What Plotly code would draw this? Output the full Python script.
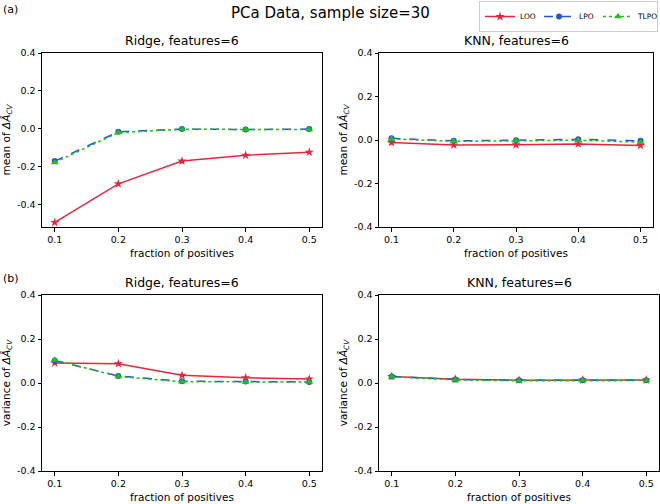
import plotly.graph_objects as go

# ---- data ----
fractions = [0.1, 0.2, 0.3, 0.4, 0.5]
ridge_mean_loo = [-0.495, -0.291, -0.171, -0.140, -0.124]
ridge_mean_lpo = [-0.171, -0.016, -0.002, -0.004, -0.002]
ridge_mean_tlpo = [-0.178, -0.020, -0.003, -0.005, -0.004]
knn_mean_loo = [-0.012, -0.023, -0.022, -0.018, -0.025]
knn_mean_lpo = [0.008, -0.004, -0.001, 0.003, -0.004]
knn_mean_tlpo = [0.005, -0.006, -0.004, -0.001, -0.010]
ridge_var_loo = [0.091, 0.088, 0.035, 0.024, 0.018]
ridge_var_lpo = [0.102, 0.032, 0.008, 0.007, 0.005]
ridge_var_tlpo = [0.105, 0.030, 0.006, 0.005, 0.004]
knn_var_loo = [0.030, 0.017, 0.013, 0.014, 0.014]
knn_var_lpo = [0.030, 0.016, 0.012, 0.013, 0.013]
knn_var_tlpo = [0.028, 0.014, 0.010, 0.011, 0.011]
series_names = ["LOO", "LPO", "TLPO"]
x_ticks = [0.1, 0.2, 0.3, 0.4, 0.5]
x_ticktext = ["0.1", "0.2", "0.3", "0.4", "0.5"]
y_ticks = [-0.4, -0.2, 0.0, 0.2, 0.4]
y_ticktext = ["-0.4", "-0.2", "0.0", "0.2", "0.4"]
panel_titles = ["Ridge, features=6", "KNN, features=6", "Ridge, features=6", "KNN, features=6"]

W, H = 660, 504
colors = ["#e8253d", "#2453d3", "#22bb22"]
dashes = ["solid", "dash", "dot"]
symbols = ["star", "circle", "triangle-up"]
msizes = [7, 6, 7]

panels = [
    (ridge_mean_loo, ridge_mean_lpo, ridge_mean_tlpo),
    (knn_mean_loo, knn_mean_lpo, knn_mean_tlpo),
    (ridge_var_loo, ridge_var_lpo, ridge_var_tlpo),
    (knn_var_loo, knn_var_lpo, knn_var_tlpo),
]
# pixel boxes (x0, x1, ytop, ybottom)
boxes = [(42, 322, 53, 227), (379, 653, 53, 227), (42, 322, 295, 471), (379, 659, 295, 471)]
yranges = [[-0.519, 0.4], [-0.4, 0.4], [-0.4, 0.4], [-0.4, 0.4]]
ylabels = ["mean of <i>ΔÂ</i><sub><i>CV</i></sub>", "mean of <i>ΔÂ</i><sub><i>CV</i></sub>",
           "variance of <i>ΔÂ</i><sub><i>CV</i></sub>", "variance of <i>ΔÂ</i><sub><i>CV</i></sub>"]

fig = go.Figure()
FONT = "DejaVu Sans"
layout = dict(width=W, height=H, margin=dict(l=0, r=0, t=0, b=0, autoexpand=False),
              paper_bgcolor="white", plot_bgcolor="white",
              font=dict(family=FONT, color="black"))
annotations = []
for i, (data, box, yr, yl) in enumerate(zip(panels, boxes, yranges, ylabels)):
    n = i + 1
    xa = "x" if n == 1 else f"x{n}"
    ya = "y" if n == 1 else f"y{n}"
    for k in range(3):
        fig.add_trace(go.Scatter(
            x=fractions, y=data[k], name=series_names[k], xaxis=xa, yaxis=ya,
            mode="lines+markers", showlegend=(i == 0),
            line=dict(color=colors[k], width=1.5, dash=dashes[k]),
            marker=dict(symbol=symbols[k], size=msizes[k], color=colors[k]),
        ))
    x0, x1, yt, yb = box
    axis_common = dict(showline=True, linecolor="black", linewidth=1, mirror=True,
                       ticks="outside", ticklen=3.5, tickwidth=1, tickcolor="black",
                       showgrid=False, zeroline=False, tickfont=dict(size=9.5, family=FONT))
    layout["xaxis" + ("" if n == 1 else str(n))] = dict(
        domain=[x0 / W, x1 / W], anchor=ya, range=[0.08, 0.52],
        tickvals=x_ticks, ticktext=x_ticktext,
        title=dict(text="fraction of positives", font=dict(size=10.5), standoff=5),
        **axis_common)
    layout["yaxis" + ("" if n == 1 else str(n))] = dict(
        domain=[1 - yb / H, 1 - yt / H], anchor=xa, range=yr,
        tickvals=y_ticks, ticktext=y_ticktext,
        title=dict(text=yl, font=dict(size=10.5), standoff=4),
        **axis_common)
    annotations.append(dict(text=panel_titles[i], x=(x0 + x1) / 2 / W, y=1 - (yt - 3) / H,
                            xref="paper", yref="paper", xanchor="center", yanchor="bottom",
                            showarrow=False, font=dict(size=12.5, family=FONT)))

annotations.append(dict(text="PCa Data, sample size=30", x=330 / W, y=1 - 24 / H,
                        xref="paper", yref="paper", xanchor="center", yanchor="bottom",
                        showarrow=False, font=dict(size=15, family=FONT)))
annotations.append(dict(text="(a)", x=1 / W, y=1 - 1 / H, xref="paper", yref="paper",
                        xanchor="left", yanchor="top", showarrow=False, font=dict(size=11)))
annotations.append(dict(text="(b)", x=1 / W, y=1 - 270 / H, xref="paper", yref="paper",
                        xanchor="left", yanchor="top", showarrow=False, font=dict(size=11)))
layout["annotations"] = annotations
layout["legend"] = dict(orientation="h", x=0.997, xanchor="right", y=0.998, yanchor="top",
                        bordercolor="#cccccc", borderwidth=1, bgcolor="white",
                        font=dict(size=7.5, family=FONT), entrywidth=14,
                        tracegroupgap=0)
fig.update_layout(**layout)
fig.write_html("out.html", config={"displayModeBar": False},
               post_script="document.body.style.margin='0';document.body.style.overflow='hidden';")
